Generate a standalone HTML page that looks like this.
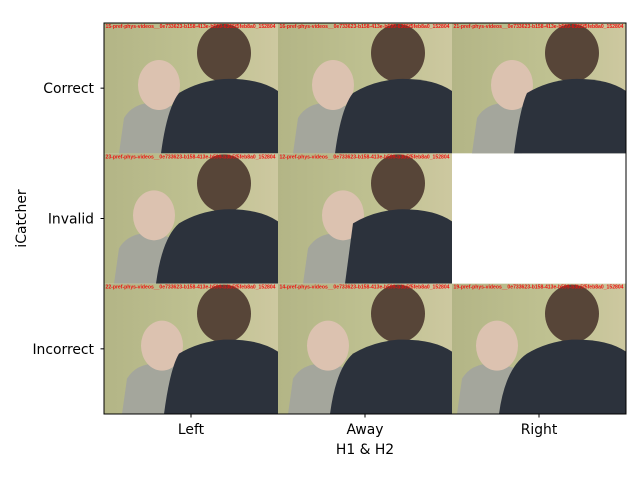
<!DOCTYPE html>
<html><head><meta charset="utf-8"><style>
body{margin:0;background:#fff;}
svg{display:block;font-family:"DejaVu Sans","Liberation Sans",sans-serif;}
</style></head><body>
<svg width="640" height="480" viewBox="0 0 640 480">
<defs>
<linearGradient id="bg" x1="0" x2="1" y1="0" y2="0"><stop offset="0" stop-color="#b3b586"/><stop offset="0.6" stop-color="#c0c292"/><stop offset="1" stop-color="#cdc8a0"/></linearGradient>
</defs>
<g id="cells"></g>
<g id="axes"></g>
</svg>
<script>
const xCategories=["Left","Away","Right"];
const yCategories=["Correct","Invalid","Incorrect"];
const cellLabels=[
["15-pref-phys-videos__0e733623-b158-413e-b599-6365f5feb8a0_152804","16-pref-phys-videos__0e733623-b158-413e-b599-6365f5feb8a0_152804","21-pref-phys-videos__0e733623-b158-413e-b599-6365f5feb8a0_152804"],
["23-pref-phys-videos__0e733623-b158-413e-b599-b3b5f5feb8a0_152804","12-pref-phys-videos__0e733623-b158-413e-b599-b3b5f5feb8a0_152804",null],
["22-pref-phys-videos__0e733623-b158-413e-b599-b3b5f5feb8a0_152804","14-pref-phys-videos__0e733623-b158-413e-b599-b3b5f5feb8a0_152804","19-pref-phys-videos__0e733623-b158-413e-b599-b3b5f5feb8a0_152804"]];
const babyX=[[55,55,60],[50,65,0],[58,50,45]];
const ns="http://www.w3.org/2000/svg";
const L=104,T=23,W=522,H=391;
const cw=W/3,ch=H/3;
function xs(i){return L+i*cw;}
function ys(j){return T+j*ch;}
function mk(tag,attrs,parent){const e=document.createElementNS(ns,tag);for(const k in attrs)e.setAttribute(k,attrs[k]);parent.appendChild(e);return e;}
const cells=document.getElementById('cells');
for(let j=0;j<3;j++)for(let i=0;i<3;i++){
 if(!cellLabels[j][i])continue;
 const g=mk('g',{transform:`translate(${xs(i)},${ys(j)})`},cells);
 
 
 const bx=babyX[j][i];
 mk('rect',{x:0,y:0,width:cw,height:ch,fill:'url(#bg)'},g);
 mk('path',{d:`M${bx-40} ${ch} L${bx-35} 95 Q${bx-25} 78 ${bx} 80 L${bx+20} 85 L${bx+10} ${ch} Z`,fill:'#a4a69c'},g);
 mk('ellipse',{cx:bx,cy:62,rx:21,ry:25,fill:'#dcc2b0'},g);
 mk('ellipse',{cx:120,cy:30,rx:27,ry:29,fill:'#574538'},g);
 mk('path',{d:`M${bx+2} ${ch} Q${bx+8} 85 75 70 Q95 58 120 56 Q155 55 ${cw} 68 L${cw} ${ch} Z`,fill:'#2c323c'},g);
 const t=mk('text',{x:1.5,y:5,'font-size':5,'font-weight':'bold',fill:'#f01010','font-family':'Liberation Sans',textLength:170,lengthAdjust:'spacingAndGlyphs'},g);
 t.textContent=cellLabels[j][i];
}
const ax=document.getElementById('axes');
const fr=mk('rect',{x:L,y:T,width:W,height:H,fill:'none',stroke:'#000','stroke-width':1},ax);

xCategories.forEach((c,i)=>{
 const x=xs(i)+cw/2;
 mk('line',{x1:x,x2:x,y1:T+H,y2:T+H+3.5,stroke:'#000'},ax);
 const t=mk('text',{x:x,y:T+H+20,'font-size':13.9,'text-anchor':'middle'},ax);
 
 t.textContent=c;
});
yCategories.forEach((c,j)=>{
 const y=ys(j)+ch/2;
 mk('line',{x1:L,x2:L-3.5,y1:y,y2:y,stroke:'#000'},ax);
 const t=mk('text',{x:L-10,y:y+5,'font-size':13.9,'text-anchor':'end'},ax);
 
 t.textContent=c;
});
const xt=mk('text',{x:L+W/2,y:454,'font-size':13.9,'text-anchor':'middle'},ax);

xt.textContent='H1 & H2';
const yt=mk('text',{x:26,y:T+H/2,'font-size':13.9,'text-anchor':'middle',transform:`rotate(-90 26 ${T+H/2})`},ax);

yt.textContent='iCatcher';
</script>
</body></html>
